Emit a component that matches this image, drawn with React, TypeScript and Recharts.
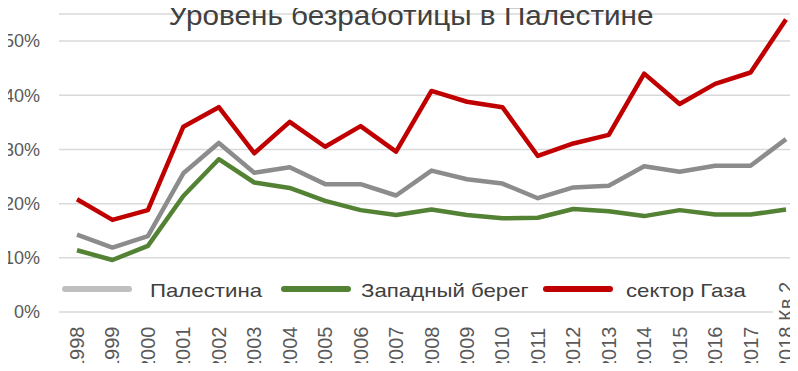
import React from "react";
import { LineChart, Line, XAxis, YAxis, CartesianGrid } from "recharts";

const years = [
  "1998", "1999", "2000", "2001", "2002", "2003", "2004", "2005", "2006", "2007",
  "2008", "2009", "2010", "2011", "2012", "2013", "2014", "2015", "2016", "2017", "2018 Кв.2",
];
const palestine = [14.3, 11.9, 14.0, 25.6, 31.2, 25.7, 26.7, 23.6, 23.6, 21.5, 26.1, 24.5, 23.7, 21.0, 23.0, 23.3, 26.9, 25.9, 27.0, 27.0, 31.9];
const westBank = [11.4, 9.6, 12.2, 21.4, 28.2, 23.9, 22.9, 20.5, 18.8, 17.9, 18.9, 17.9, 17.3, 17.4, 19.0, 18.6, 17.7, 18.8, 18.0, 18.0, 18.9];
const gaza = [20.8, 17.0, 18.8, 34.2, 37.8, 29.3, 35.1, 30.5, 34.3, 29.6, 40.8, 38.8, 37.8, 28.8, 31.1, 32.7, 44.0, 38.4, 42.1, 44.2, 54.0];
const yTicks = [0, 10, 20, 30, 40, 50];

const seriesNames = ["Палестина", "Западный берег", "сектор Газа"];
const lineColors = ["#8c8c8c", "#548235", "#c00000"];
const swatchColors = ["#bfbfbf", "#548235", "#c00000"];
const title = "Уровень безработицы в Палестине";

const data = years.map((y, i) => ({
  year: y,
  [seriesNames[0]]: palestine[i],
  [seriesNames[1]]: westBank[i],
  [seriesNames[2]]: gaza[i],
}));

const FONT = '"Liberation Sans", Arial, sans-serif';
const W = 810;
const H = 371;

const XTick = (props: any) => {
  const { x, payload } = props;
  const v: string = payload.value;
  const isLast = v.indexOf("Кв") >= 0;
  const base = H;
  return (
    <g>
      {isLast && <rect x={x - 13} y={274} width={30} height={H - 274} fill="#ffffff" />}
      <text
        x={x}
        y={base}
        transform={`rotate(-90, ${x}, ${base})`}
        dy="0.35em"
        textAnchor="start"
        fontSize={20}
        fill="#595959"
        fontFamily={FONT}
      >
        {v}
      </text>
    </g>
  );
};

const swatchLeft = [62, 281, 543];
const textLeft = [150, 361, 626];

const LegendBox = () => (
  <div style={{ position: "absolute", left: 0, top: 0, width: 798, height: H, pointerEvents: "none", zIndex: 2 }}>
    {seriesNames.map((n, i) => (
      <React.Fragment key={n}>
        <div
          style={{
            position: "absolute",
            left: swatchLeft[i],
            top: 286,
            width: 70,
            height: 6,
            borderRadius: 3,
            background: swatchColors[i],
          }}
        />
        <div
          style={{
            position: "absolute",
            left: textLeft[i],
            top: 281,
            fontSize: 19,
            lineHeight: "19px",
            color: "#404040",
            whiteSpace: "nowrap",
            transform: "scaleX(1.17)",
            transformOrigin: "0 0",
          }}
        >
          {n}
        </div>
      </React.Fragment>
    ))}
  </div>
);

export default function App() {
  return (
    <div style={{ margin: -8, position: "relative", width: 798, height: H, overflow: "hidden", fontFamily: FONT }}>
      <div
        style={{
          position: "absolute",
          left: 0,
          top: 2,
          width: 822,
          textAlign: "center",
          fontSize: 28,
          lineHeight: "28px",
          color: "#404040",
          zIndex: 2,
          transform: "scaleX(1.06)",
          transformOrigin: "411px 0",
          whiteSpace: "nowrap",
        }}
      >
        {title}
      </div>
      <LineChart width={W} height={H} data={data} margin={{ top: 14, right: 6, bottom: 0, left: 0 }} style={{ fontFamily: FONT }}>
        <CartesianGrid vertical={false} stroke="#d9d9d9" strokeWidth={1.5} />
        <XAxis
          dataKey="year"
          interval={0}
          axisLine={false}
          tickLine={false}
          height={59}
          padding={{ left: 18, right: 18 }}
          tick={<XTick />}
        />
        <YAxis
          domain={[0, 55]}
          ticks={yTicks}
          allowDataOverflow
          axisLine={false}
          tickLine={false}
          width={59}
          tickMargin={13}
          tickFormatter={(v: number) => `${v}%`}
          tick={{ fontSize: 18, fill: "#595959", fontFamily: FONT }}
        />
        {seriesNames.map((n, i) => (
          <Line
            key={n}
            type="linear"
            dataKey={n}
            stroke={lineColors[i]}
            strokeWidth={4.5}
            dot={false}
            activeDot={false}
            strokeLinejoin="round"
            isAnimationActive={false}
          />
        ))}
      </LineChart>
      <LegendBox />
    </div>
  );
}
